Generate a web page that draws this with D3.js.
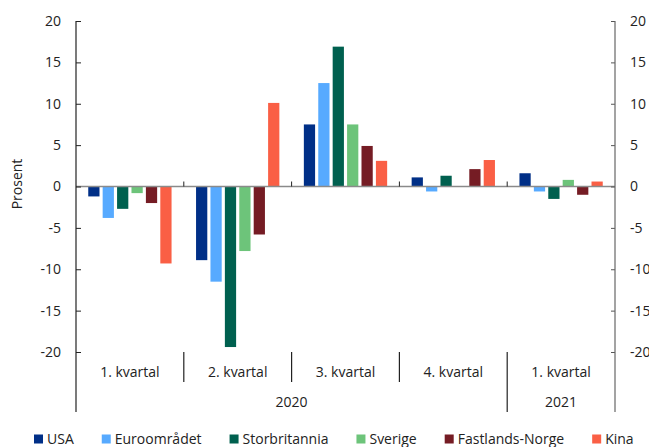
<!DOCTYPE html>
<html>
<head>
<meta charset="utf-8">
<script src="https://cdn.jsdelivr.net/npm/d3@7"></script>
<style>
  html, body { margin: 0; padding: 0; background: #fff; }
  svg { display: block; font-family: "Open Sans", "Noto Sans", sans-serif; }
</style>
</head>
<body>
<svg id="chart" width="649" height="447"></svg>
<script>
// Quarterly GDP growth, percent change from previous quarter
const quarters = ["2020K1", "2020K2", "2020K3", "2020K4", "2021K1"];
const quarterLabels = ["1. kvartal", "2. kvartal", "3. kvartal", "4. kvartal", "1. kvartal"];
const years = ["2020", "2021"];
const yearSpans = [[0, 3], [4, 4]];
const seriesNames = ["USA", "Euroområdet", "Storbritannia", "Sverige", "Fastlands-Norge", "Kina"];
const seriesColors = ["#002f87", "#57aaff", "#00604f", "#6dc47a", "#751c24", "#fa5f45"];

const usa            = [-1.2,  -8.9,  7.5,  1.1,  1.6];
const euroomradet    = [-3.8, -11.5, 12.5, -0.6, -0.6];
const storbritannia  = [-2.7, -19.4, 16.9,  1.3, -1.5];
const sverige        = [-0.8,  -7.8,  7.5,  null, 0.8];
const fastlandsNorge = [-2.0,  -5.8,  4.9,  2.1, -1.0];
const kina           = [-9.3,  10.1,  3.1,  3.2,  0.6];
const seriesValues = [usa, euroomradet, storbritannia, sverige, fastlandsNorge, kina];

const yTicks = [-20, -15, -10, -5, 0, 5, 10, 15, 20];
const tickText = d => String(d);   // plain hyphen-minus for negatives

const svg = d3.select("#chart");
const plotLeft = 76, plotRight = 615, plotTop = 21, plotBottom = 352;
const fontSize = 14;

const x = d3.scaleBand().domain(quarters).range([plotLeft, plotRight]).padding(0);
const xs = d3.scaleBand().domain(seriesNames).range([0, x.bandwidth()])
  .paddingInner(0.22).paddingOuter(0.85);
const y = d3.scaleLinear().domain([-20, 20]).range([plotBottom, plotTop]);

// Bars
const rows = [];
quarters.forEach((q, qi) => {
  seriesNames.forEach((s, si) => {
    const v = seriesValues[si][qi];
    if (v !== null) rows.push({ q, s, v, color: seriesColors[si] });
  });
});
svg.append("g").selectAll("rect").data(rows).join("rect")
  .attr("x", d => x(d.q) + xs(d.s))
  .attr("width", xs.bandwidth())
  .attr("y", d => y(Math.max(0, d.v)))
  .attr("height", d => Math.abs(y(d.v) - y(0)))
  .attr("fill", d => d.color);

// Zero line with small category ticks
svg.append("line")
  .attr("x1", plotLeft).attr("x2", plotRight)
  .attr("y1", y(0)).attr("y2", y(0))
  .attr("stroke", "#8a8a8a").attr("stroke-width", 1.5);
svg.append("g").selectAll("line").data(quarters.slice(1)).join("line")
  .attr("x1", d => x(d)).attr("x2", d => x(d))
  .attr("y1", y(0) - 5).attr("y2", y(0))
  .attr("stroke", "#222").attr("stroke-width", 1);

// Left axis
const leftAxis = svg.append("g").attr("transform", `translate(${plotLeft},0)`)
  .call(d3.axisLeft(y).tickValues(yTicks).tickFormat(tickText)
    .tickSizeInner(-5).tickSizeOuter(0).tickPadding(15));
leftAxis.select(".domain").remove();
leftAxis.selectAll("line").attr("stroke", "#222");
leftAxis.selectAll("text").attr("font-size", fontSize).attr("fill", "#222")
  .attr("font-family", "Open Sans");

// Right axis
const rightAxis = svg.append("g").attr("transform", `translate(${plotRight},0)`)
  .call(d3.axisRight(y).tickValues(yTicks).tickFormat(tickText)
    .tickSizeInner(-4).tickSizeOuter(0).tickPadding(15));
rightAxis.select(".domain").remove();
rightAxis.selectAll("line").attr("stroke", "#555");
rightAxis.selectAll("text").attr("font-size", fontSize).attr("fill", "#222")
  .attr("font-family", "Open Sans");

// Axis lines, extended through the category rows
svg.append("line").attr("x1", plotLeft).attr("x2", plotLeft).attr("y1", plotTop).attr("y2", 412)
  .attr("stroke", "#222").attr("stroke-width", 1.2);
svg.append("line").attr("x1", plotRight).attr("x2", plotRight).attr("y1", plotTop).attr("y2", 412)
  .attr("stroke", "#666").attr("stroke-width", 1.2);

// Quarter separators
quarters.slice(1).forEach(q => {
  const isYearBreak = yearSpans.some(sp => quarters[sp[0]] === q);
  svg.append("line")
    .attr("x1", x(q)).attr("x2", x(q))
    .attr("y1", plotBottom).attr("y2", isYearBreak ? 412 : 382)
    .attr("stroke", "#222").attr("stroke-width", 1.2);
});

// Quarter labels
svg.append("g").selectAll("text").data(quarters).join("text")
  .attr("x", d => x(d) + x.bandwidth() / 2)
  .attr("y", 377)
  .attr("text-anchor", "middle")
  .attr("font-size", fontSize).attr("fill", "#222")
  .text((d, i) => quarterLabels[i]);

// Year labels
svg.append("g").selectAll("text").data(years).join("text")
  .attr("x", (d, i) => (x(quarters[yearSpans[i][0]]) + x(quarters[yearSpans[i][1]]) + x.bandwidth()) / 2)
  .attr("y", 407)
  .attr("text-anchor", "middle")
  .attr("font-size", fontSize).attr("fill", "#222")
  .text(d => d);

// Y axis title
svg.append("text")
  .attr("transform", "translate(22,184) rotate(-90)")
  .attr("text-anchor", "middle")
  .attr("font-size", fontSize).attr("fill", "#222")
  .text("Prosent");

// Legend
const legend = svg.append("g");
let lx = 34;
seriesNames.forEach((s, i) => {
  legend.append("rect").attr("x", lx).attr("y", 434.5).attr("width", 9).attr("height", 9)
    .attr("fill", seriesColors[i]);
  const t = legend.append("text").attr("x", lx + 13).attr("y", 444)
    .attr("font-size", fontSize).attr("fill", "#222").text(s);
  lx += 13 + t.node().getComputedTextLength() + 28;
});
</script>
</body>
</html>
